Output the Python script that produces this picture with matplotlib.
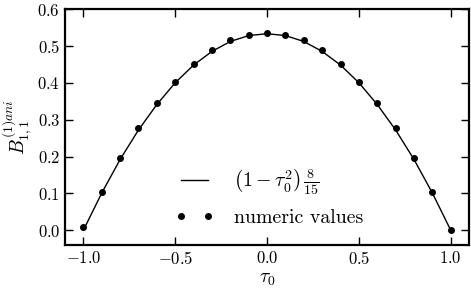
import numpy as np
import matplotlib

matplotlib.use('Agg')
import matplotlib.pyplot as plt

# analytic curve (1 - tau^2) * 8/15, read at the sample points
tau_line = [-1.0, -0.9, -0.8, -0.7, -0.6, -0.5, -0.4, -0.3, -0.2, -0.1, 0.0,
            0.1, 0.2, 0.3, 0.4, 0.5, 0.6, 0.7, 0.8, 0.9, 1.0]
b_line = [0.0, 0.101, 0.192, 0.272, 0.341, 0.400, 0.448, 0.485, 0.512, 0.528, 0.533,
          0.528, 0.512, 0.485, 0.448, 0.400, 0.341, 0.272, 0.192, 0.101, 0.0]

# numeric values
tau_num = [-1.0, -0.9, -0.8, -0.7, -0.6, -0.5, -0.4, -0.3, -0.2, -0.1, 0.0,
           0.1, 0.2, 0.3, 0.4, 0.5, 0.6, 0.7, 0.8, 0.9, 1.0]
b_num = [0.008, 0.105, 0.196, 0.276, 0.345, 0.403, 0.452, 0.489, 0.515, 0.530, 0.535,
         0.530, 0.515, 0.489, 0.452, 0.403, 0.345, 0.276, 0.196, 0.105, 0.0]

plt.rcParams['font.family'] = 'serif'
plt.rcParams['font.serif'] = ['cmr10']
plt.rcParams['mathtext.fontset'] = 'cm'
plt.rcParams['axes.formatter.use_mathtext'] = True
plt.rcParams['font.size'] = 12

fig = plt.figure(figsize=(4.71, 2.91), dpi=100)
ax = fig.add_axes([0.138, 0.158, 0.858, 0.811])

ax.plot(tau_line, b_line, color='black', lw=1.0,
        label=r'$\left(1-\tau_0^2\right)\,\frac{8}{15}$')
ax.plot(tau_num, b_num, 'o', color='black', ms=4.0, label='numeric values')

ax.set_xlim(-1.1, 1.1)
ax.set_ylim(-0.04, 0.6)
ax.set_xticks([-1.0, -0.5, 0.0, 0.5, 1.0])
ax.set_yticks([0.0, 0.1, 0.2, 0.3, 0.4, 0.5, 0.6])
ax.tick_params(direction='in', top=True, right=True, length=6, width=1, labelsize=12)
for sp in ax.spines.values():
    sp.set_linewidth(1.6)

ax.set_xlabel(r'$\tau_0$', fontsize=14, labelpad=2)
ax.set_ylabel(r'$B_{1,1}^{(1)ani}$', fontsize=14, labelpad=2)

ax.legend(loc='lower center', bbox_to_anchor=(0.505, 0.0), frameon=False,
          numpoints=2, fontsize=14.3, handlelength=2.0, handletextpad=1.0,
          labelspacing=0.6)

fig.savefig('out.png', dpi=100)
